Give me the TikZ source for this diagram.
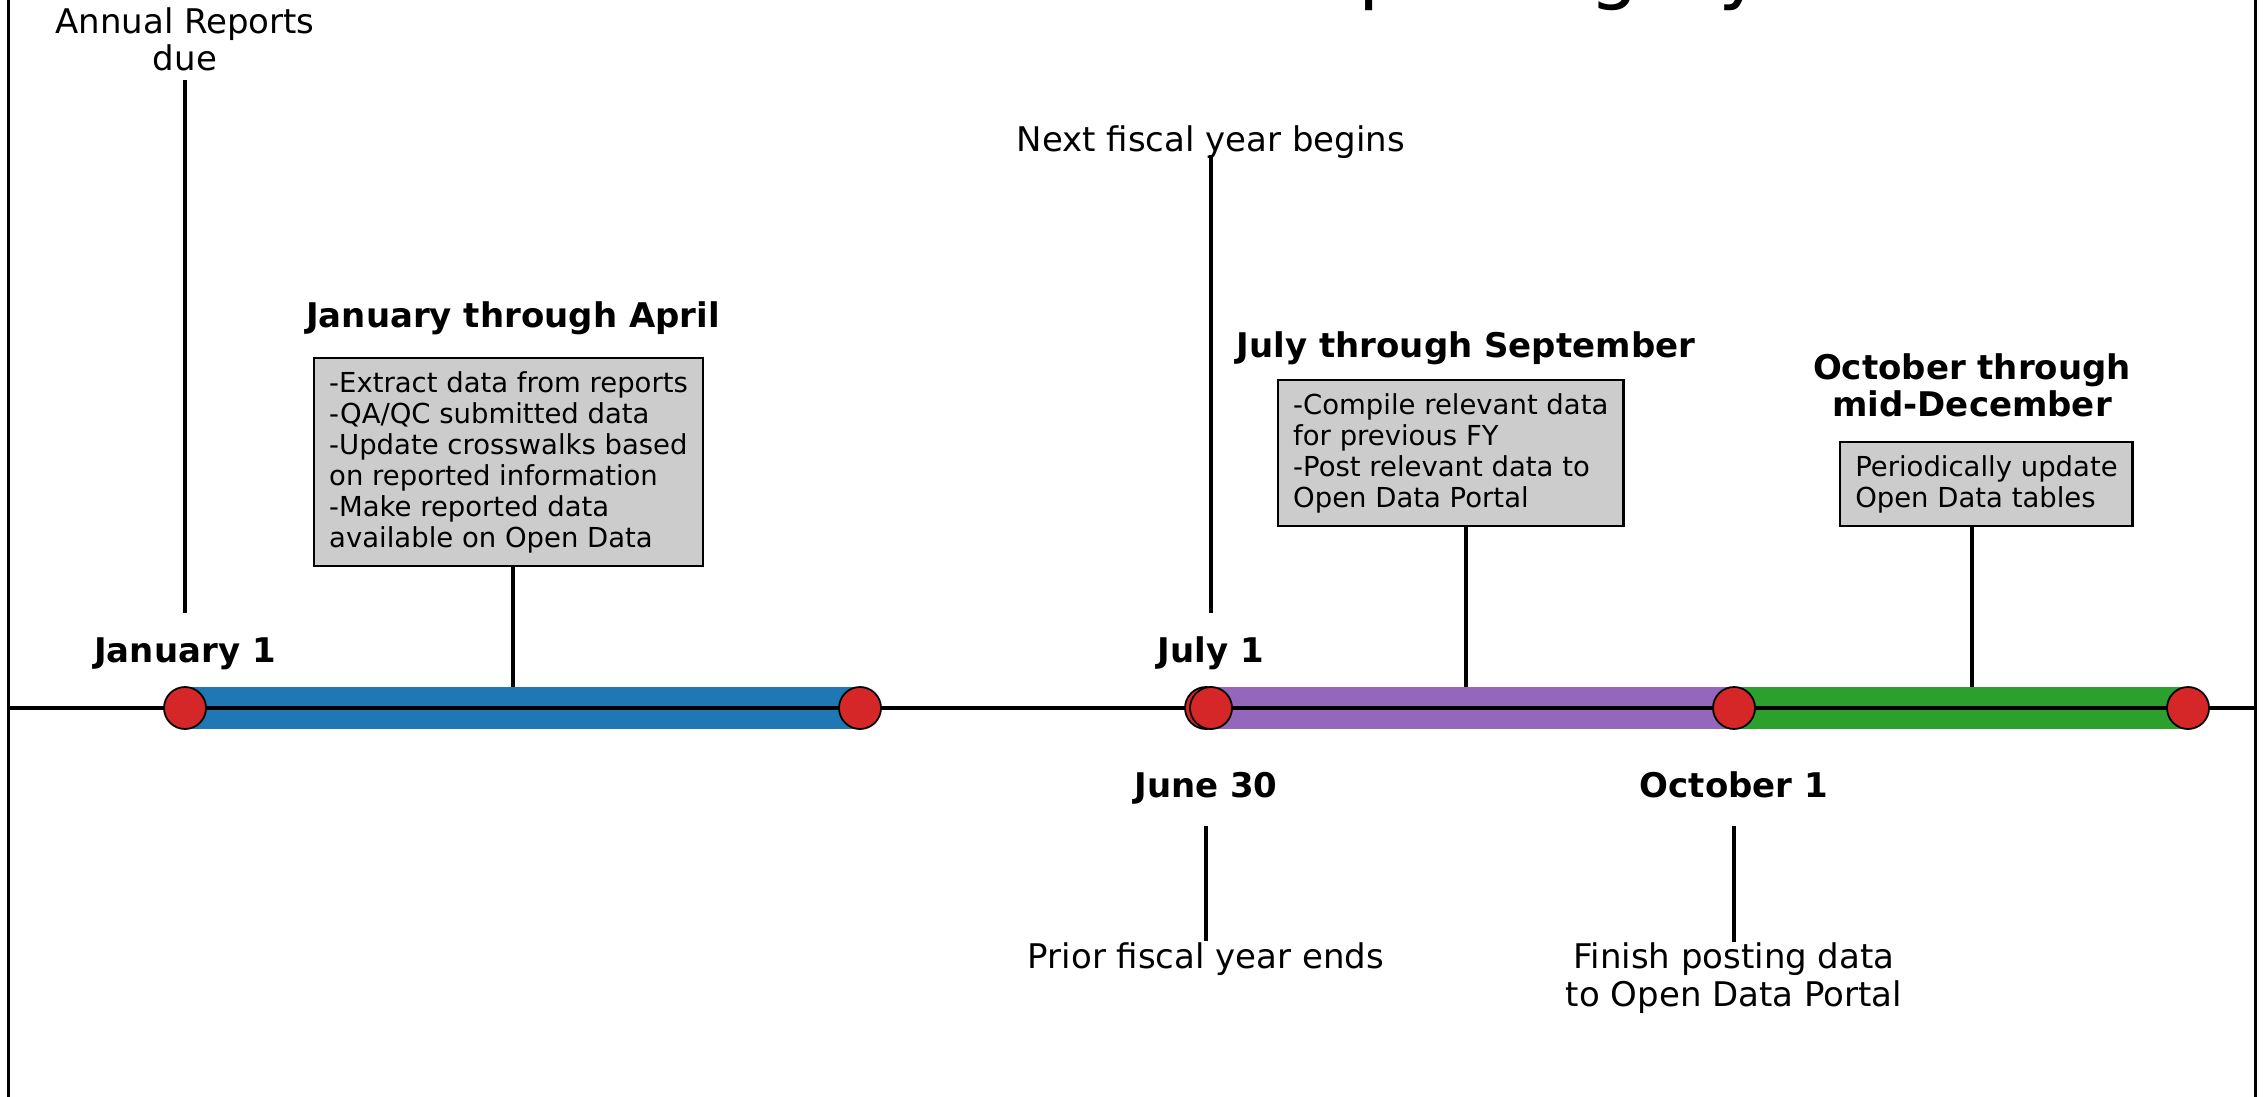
\documentclass[tikz,border=0pt]{standalone}
\usepackage{fontspec}
\setmainfont{DejaVu Sans}
\usepackage{tikz}
\definecolor{tabblue}{HTML}{1F77B4}
\definecolor{tabpurple}{HTML}{9467BD}
\definecolor{tabgreen}{HTML}{2CA02C}
\definecolor{tabred}{HTML}{D62728}
\definecolor{boxgray}{HTML}{CCCCCC}
\newcommand{\lblfont}{\fontsize{9.67}{10.67}\selectfont}
\newcommand{\boxtxt}{\fontsize{7.82}{8.82}\selectfont}

\begin{document}
\begin{tikzpicture}[line cap=butt]
      \tikzstyle{heading} = [font=\lblfont\bfseries, inner sep=0pt, align=center]
      \tikzstyle{caption} = [font=\lblfont, inner sep=0pt, align=center]
      \tikzstyle{infobox} = [rectangle, draw=black, line width=0.7pt, fill=boxgray, font=\boxtxt, align=left, inner xsep=0.15cm, inner ysep=0.13cm, anchor=north west]
      \tikzstyle{dot} = [circle, fill=tabred, draw=black, line width=0.5pt, minimum size=0.42cm, inner sep=0pt]
      \tikzstyle{band} = [line width=0.42cm]
      \tikzstyle{tick} = [line width=1pt]

      \useasboundingbox (0cm, 0cm) rectangle (22.66cm, -10.97cm);
      \clip (0cm, 0cm) rectangle (22.66cm, -10.97cm);

      % axes frame, title only shows its descenders
      \draw [line width=0.6pt] (0.085cm, 0.1cm) -- (0.085cm, -11cm);
      \draw [line width=0.6pt] (22.555cm, 0.1cm) -- (22.555cm, -11cm);
      \node (title) [font=\fontsize{22.2}{24}\selectfont, inner sep=0pt, anchor=base west] at (9.63cm, 0.054cm) {Annual Reporting Cycle};

      % points on the timeline
      \foreach \name/\x in {jan/1.85, apr/8.60, jun/12.06, jul/12.11, oct/17.34, dec/21.88}
      {
        \coordinate (t-\name) at (\x cm, -7.08cm);
      }
      \coordinate (s-left) at (0.085cm, -7.08cm);
      \coordinate (s-right) at (22.555cm, -7.08cm);

      % date labels
      \node (jan-lbl) [heading, anchor=base] at (1.85cm, -6.62cm) {January 1};
      \node (jul-lbl) [heading, anchor=base] at (12.11cm, -6.62cm) {July 1};
      \node (jun-lbl) [heading, anchor=base] at (12.06cm, -7.97cm) {June 30};
      \node (oct-lbl) [heading, anchor=base] at (17.34cm, -7.97cm) {October 1};

      % events above and below
      \node (annual) [caption, anchor=south] at (1.85cm, -0.717cm) {Annual Reports\\due};
      \node (nextfy) [caption, anchor=base] at (12.11cm, -1.517cm) {Next fiscal year begins};
      \node (prior) [caption, anchor=base] at (12.06cm, -9.68cm) {Prior fiscal year ends};
      \node (finish) [caption, anchor=north] at (17.34cm, -9.422cm) {Finish posting data\\to Open Data Portal};
      \coordinate (jan-top) at (1.85cm, -6.13cm);
      \coordinate (jul-top) at (12.11cm, -6.13cm);
      \draw [tick] ([yshift=-0.08cm]annual.south) -- (jan-top);
      \draw [tick] ([yshift=-0.03cm]nextfy.base) -- (jul-top);
      \draw [tick] ([yshift=-0.29cm]jun-lbl.base) -- (prior.north);
      \draw [tick] ([yshift=-0.29cm]oct-lbl.base) -- (finish.north);

      % period boxes
      \node (head-A) [heading, anchor=base] at (5.13cm, -3.27cm) {January through April};
      \node (head-B) [heading, anchor=base] at (14.66cm, -3.57cm) {July through September};
      \node (head-C) [heading, anchor=south] at (19.72cm, -4.18cm) {October through\\mid-December};
      \node (box-A) [infobox] at (3.13cm, -3.57cm) {-Extract data from reports\\-QA/QC submitted data\\-Update crosswalks based\\on reported information\\-Make reported data\\available on Open Data};
      \node (box-B) [infobox] at (12.77cm, -3.79cm) {-Compile relevant data\\for previous FY\\-Post relevant data to\\Open Data Portal};
      \node (box-C) [infobox] at (18.39cm, -4.41cm) {Periodically update\\Open Data tables};
      \foreach \i/\x in {A/5.13, B/14.66, C/19.72}
      {
        \coordinate (\i-bar) at (\x cm, -6.87cm);
        \draw [tick] (\i-bar |- box-\i.south) -- (\i-bar);
      }

      % coloured periods, axis line, dots on top
      \foreach \a/\b/\c in {jan/apr/tabblue, jul/oct/tabpurple, oct/dec/tabgreen}
      {
        \draw [band, draw=\c] (t-\a) -- (t-\b);
      }
      \draw [line width=1pt] (s-left) -- (s-right);
      \foreach \name in {jan, apr, jun, jul, oct, dec}
      {
        \node (d-\name) [dot] at (t-\name) {};
      }
\end{tikzpicture}
\end{document}
